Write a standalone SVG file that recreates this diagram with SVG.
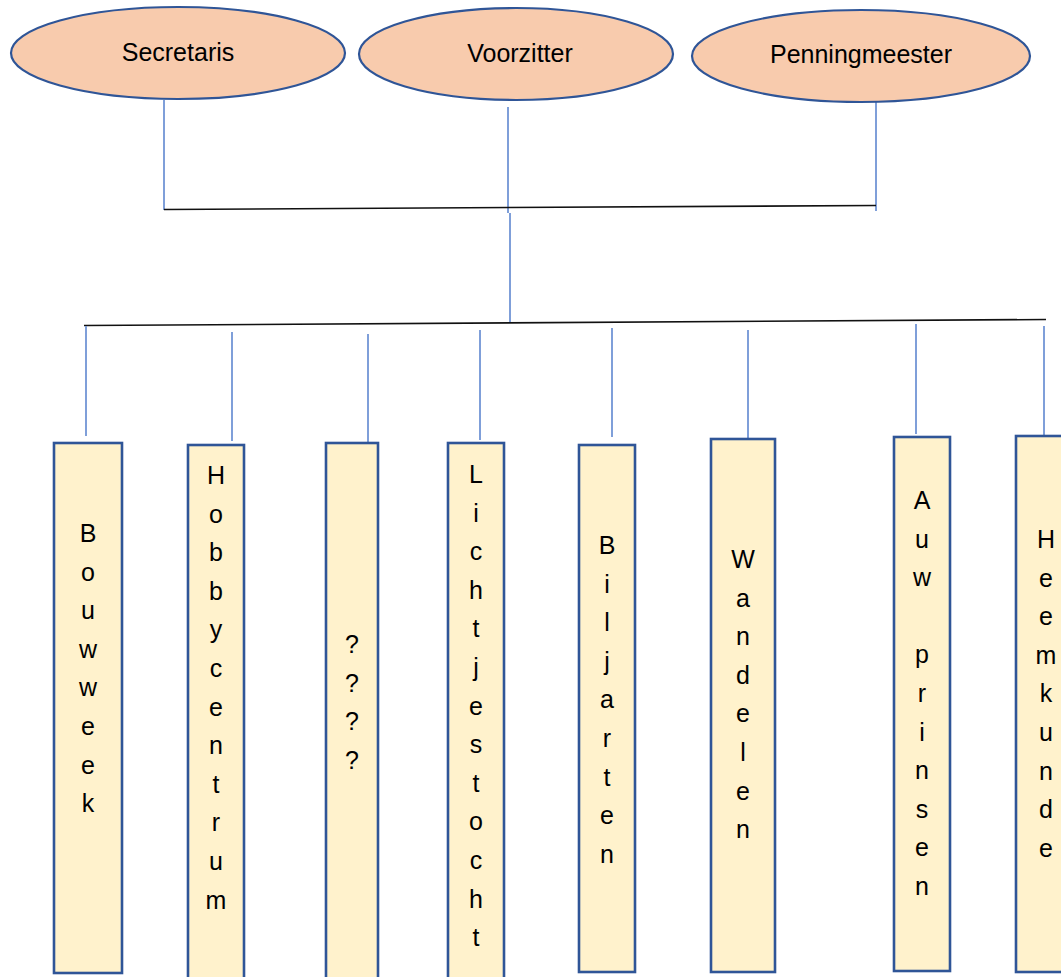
<svg xmlns="http://www.w3.org/2000/svg" width="1061" height="977" viewBox="0 0 1061 977">
<style>
.ell{fill:#F8CBAD;stroke:#2F5597;stroke-width:2.2}
.box{fill:#FFF2CC;stroke:#2F5597;stroke-width:2.6}
.blue{stroke:#7F9FD9;stroke-width:2;fill:none}
.blk{stroke:#111;stroke-width:1.6;fill:none}
text{font-family:"Liberation Sans",Arial,sans-serif;font-size:25px;fill:#000;text-anchor:middle}
</style>
<rect width="1061" height="977" fill="#fff"/>
<g id="connectors">
<line class="blue" x1="164" y1="100" x2="164" y2="210"/>
<line class="blue" x1="508" y1="107" x2="508" y2="213"/>
<line class="blue" x1="510" y1="213" x2="510" y2="323"/>
<line class="blue" x1="876" y1="102" x2="876" y2="211"/>
<line class="blk" x1="164" y1="209.5" x2="876" y2="205.5"/>
<line class="blk" x1="84" y1="325.5" x2="1046" y2="319.5"/>
<line class="blue" x1="86" y1="326" x2="86" y2="436"/>
<line class="blue" x1="232" y1="332" x2="232" y2="441"/>
<line class="blue" x1="368" y1="334" x2="368" y2="443"/>
<line class="blue" x1="480" y1="330" x2="480" y2="440"/>
<line class="blue" x1="612" y1="328" x2="612" y2="437"/>
<line class="blue" x1="748" y1="330" x2="748" y2="439"/>
<line class="blue" x1="916" y1="324" x2="916" y2="434"/>
<line class="blue" x1="1044" y1="326" x2="1044" y2="436"/>
</g>
<g id="secretaris">
<ellipse class="ell" cx="178" cy="53" rx="167" ry="46"/>
<text x="178" y="61">Secretaris</text>
</g>
<g id="voorzitter">
<ellipse class="ell" cx="516" cy="54" rx="157" ry="46"/>
<text x="520" y="62">Voorzitter</text>
</g>
<g id="penningmeester">
<ellipse class="ell" cx="861" cy="56" rx="169" ry="46"/>
<text x="861" y="63">Penningmeester</text>
</g>
<g id="bouwweek">
<rect class="box" x="54" y="443" width="68" height="530"/>
<text x="88" y="542"><tspan x="88">B</tspan><tspan x="88" dy="38.6">o</tspan><tspan x="88" dy="38.6">u</tspan><tspan x="88" dy="38.6">w</tspan><tspan x="88" dy="38.6">w</tspan><tspan x="88" dy="38.6">e</tspan><tspan x="88" dy="38.6">e</tspan><tspan x="88" dy="38.6">k</tspan></text>
</g>
<g id="hobbycentrum">
<rect class="box" x="188" y="445" width="56" height="540"/>
<text x="216" y="484"><tspan x="216">H</tspan><tspan x="216" dy="38.6">o</tspan><tspan x="216" dy="38.6">b</tspan><tspan x="216" dy="38.6">b</tspan><tspan x="216" dy="38.6">y</tspan><tspan x="216" dy="38.6">c</tspan><tspan x="216" dy="38.6">e</tspan><tspan x="216" dy="38.6">n</tspan><tspan x="216" dy="38.6">t</tspan><tspan x="216" dy="38.6">r</tspan><tspan x="216" dy="38.6">u</tspan><tspan x="216" dy="38.6">m</tspan></text>
</g>
<g id="vraagtekens">
<rect class="box" x="326" y="443" width="52" height="542"/>
<text x="352" y="653"><tspan x="352">?</tspan><tspan x="352" dy="38.6">?</tspan><tspan x="352" dy="38.6">?</tspan><tspan x="352" dy="38.6">?</tspan></text>
</g>
<g id="lichtjestocht">
<rect class="box" x="448" y="443" width="56" height="542"/>
<text x="476" y="483"><tspan x="476">L</tspan><tspan x="476" dy="38.6">i</tspan><tspan x="476" dy="38.6">c</tspan><tspan x="476" dy="38.6">h</tspan><tspan x="476" dy="38.6">t</tspan><tspan x="476" dy="38.6">j</tspan><tspan x="476" dy="38.6">e</tspan><tspan x="476" dy="38.6">s</tspan><tspan x="476" dy="38.6">t</tspan><tspan x="476" dy="38.6">o</tspan><tspan x="476" dy="38.6">c</tspan><tspan x="476" dy="38.6">h</tspan><tspan x="476" dy="38.6">t</tspan></text>
</g>
<g id="biljarten">
<rect class="box" x="579" y="445" width="56" height="527"/>
<text x="607" y="554"><tspan x="607">B</tspan><tspan x="607" dy="38.6">i</tspan><tspan x="607" dy="38.6">l</tspan><tspan x="607" dy="38.6">j</tspan><tspan x="607" dy="38.6">a</tspan><tspan x="607" dy="38.6">r</tspan><tspan x="607" dy="38.6">t</tspan><tspan x="607" dy="38.6">e</tspan><tspan x="607" dy="38.6">n</tspan></text>
</g>
<g id="wandelen">
<rect class="box" x="711" y="439" width="64" height="533"/>
<text x="743" y="568"><tspan x="743">W</tspan><tspan x="743" dy="38.6">a</tspan><tspan x="743" dy="38.6">n</tspan><tspan x="743" dy="38.6">d</tspan><tspan x="743" dy="38.6">e</tspan><tspan x="743" dy="38.6">l</tspan><tspan x="743" dy="38.6">e</tspan><tspan x="743" dy="38.6">n</tspan></text>
</g>
<g id="auwprinsen">
<rect class="box" x="894" y="437" width="56" height="534"/>
<text x="922" y="509"><tspan x="922">A</tspan><tspan x="922" dy="38.6">u</tspan><tspan x="922" dy="38.6">w</tspan><tspan x="922" dy="77.2">p</tspan><tspan x="922" dy="38.6">r</tspan><tspan x="922" dy="38.6">i</tspan><tspan x="922" dy="38.6">n</tspan><tspan x="922" dy="38.6">s</tspan><tspan x="922" dy="38.6">e</tspan><tspan x="922" dy="38.6">n</tspan></text>
</g>
<g id="heemkunde">
<rect class="box" x="1016" y="436" width="70" height="536"/>
<text x="1046" y="548"><tspan x="1046">H</tspan><tspan x="1046" dy="38.6">e</tspan><tspan x="1046" dy="38.6">e</tspan><tspan x="1046" dy="38.6">m</tspan><tspan x="1046" dy="38.6">k</tspan><tspan x="1046" dy="38.6">u</tspan><tspan x="1046" dy="38.6">n</tspan><tspan x="1046" dy="38.6">d</tspan><tspan x="1046" dy="38.6">e</tspan></text>
</g>
</svg>
